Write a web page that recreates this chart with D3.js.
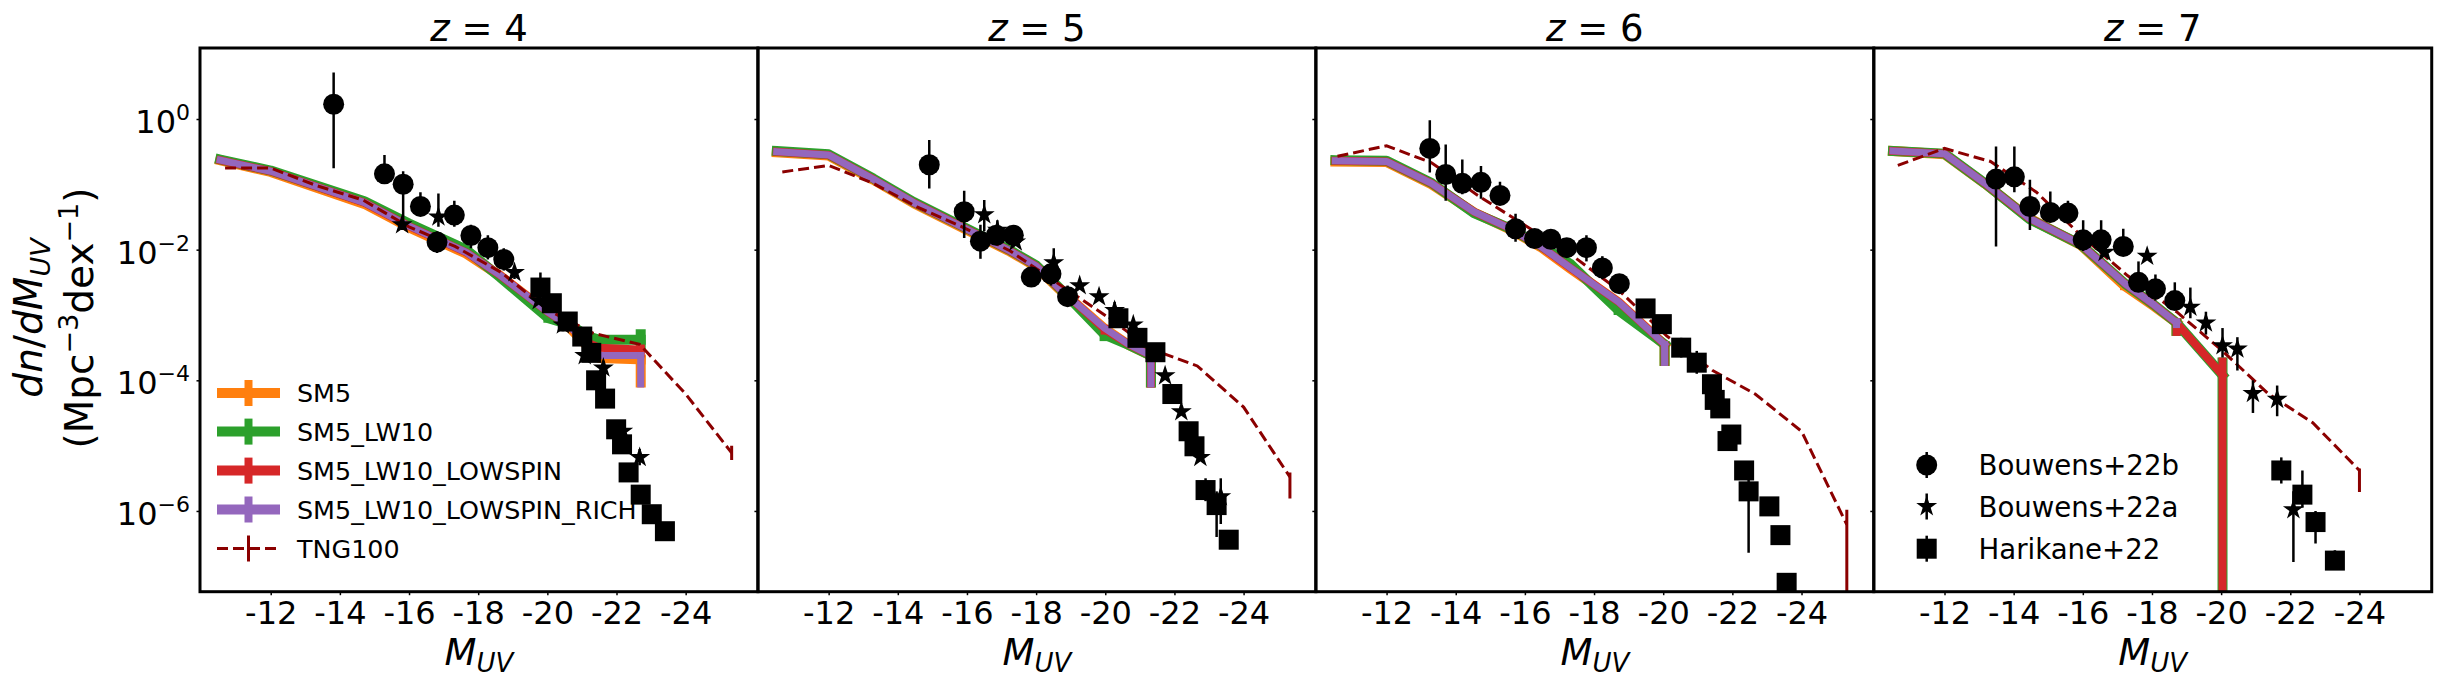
<!DOCTYPE html>
<html><head><meta charset="utf-8">
<script src="https://cdn.jsdelivr.net/npm/d3@7"></script>
<style>
body{margin:0;background:#fff}
svg{display:block}
text{font-family:"DejaVu Sans",sans-serif;fill:#000}
</style>
</head><body>
<svg id="c" width="2437" height="683"></svg>
<script>
// ---------------- DATA (M_UV, log10 dn/dM) ----------------
const redshifts = [4, 5, 6, 7];
const xTicks = [-12, -14, -16, -18, -20, -22, -24];
const yTicksExp = [0, -2, -4, -6];
const simNames = ["SM5", "SM5_LW10", "SM5_LW10_LOWSPIN", "SM5_LW10_LOWSPIN_RICH"];
const simColors = ["#ff7f0e", "#2ca02c", "#d62728", "#9467bd"];
const obsNames = ["Bouwens+22b", "Bouwens+22a", "Harikane+22"];

// z = 4 simulations
const z4_SM5 = [[-10.54,-0.63],[-12,-0.81],[-14.71,-1.30],[-16,-1.66],[-17.65,-2.06],[-18.63,-2.40],[-20.03,-2.97],[-20.66,-3.20],[-21.15,-3.47],[-21.5,-3.66],[-22.7,-3.68]];
const z4_SM5_err = [[-22.7,-4.11,-3.62]];
const z4_LW10 = [[-10.54,-0.62],[-12,-0.79],[-14.71,-1.26],[-16,-1.60],[-17.65,-2.00],[-18.63,-2.42],[-20.03,-3.05],[-20.66,-3.15],[-21.15,-3.32],[-21.5,-3.38],[-22.7,-3.38]];
const z4_LW10_err = [[-20.03,-3.12,-2.98],[-22.7,-3.55,-3.22]];
const z4_LOWSPIN = [[-10.54,-0.63],[-12,-0.80],[-14.71,-1.28],[-16,-1.64],[-17.65,-2.04],[-18.63,-2.39],[-20.03,-2.96],[-20.66,-3.18],[-21.15,-3.42],[-21.5,-3.50],[-22.7,-3.53]];
const z4_LOWSPIN_err = [[-22.7,-3.65,-3.45]];
const z4_RICH = [[-10.54,-0.63],[-12,-0.80],[-14.71,-1.28],[-16,-1.64],[-17.65,-2.04],[-18.63,-2.39],[-20.03,-2.96],[-20.66,-3.18],[-21.15,-3.45],[-21.5,-3.62],[-22.7,-3.62]];
const z4_RICH_err = [[-22.7,-4.11,-3.58]];
const z4_TNG = [[-10.68,-0.75],[-12,-0.75],[-13.33,-1.02],[-14.67,-1.24],[-16,-1.65],[-17.33,-1.95],[-18.67,-2.35],[-20,-2.92],[-21.33,-3.28],[-22.67,-3.45],[-24,-4.21],[-25.33,-5.11]];
const z4_TNG_err = [[-25.33,-5.22,-5.0]];
const z4_B22b = [[-13.82,0.226,-0.752,0.712],[-15.29,-0.839,-0.99,-0.55],[-15.83,-0.999,-1.70,-0.80],[-16.33,-1.338,-1.48,-1.12],[-16.81,-1.884,-2.05,-1.72],[-17.31,-1.471,-1.65,-1.25],[-17.79,-1.784,-1.98,-1.62],[-18.28,-1.97,-2.15,-1.78],[-18.74,-2.15,-2.32,-1.98]];
const z4_B22a = [[-15.8,-1.618,-1.70,-1.55],[-16.85,-1.498,-1.65,-1.14],[-19.05,-2.35,-2.45,-2.25],[-19.75,-2.78],[-20.45,-3.15,-3.25,-3.05],[-21.08,-3.62],[-21.62,-3.81,-3.95,-3.70],[-22.18,-4.78],[-22.67,-5.18,-5.30,-5.05]];
const z4_H22 = [[-19.8,-2.58,-2.78,-2.35],[-20.13,-2.82],[-20.59,-3.10],[-21.01,-3.33],[-21.27,-3.58],[-21.41,-4.00],[-21.67,-4.28],[-21.99,-4.75],[-22.16,-4.98],[-22.35,-5.41],[-22.7,-5.75],[-23.02,-6.05],[-23.4,-6.31]];

// z = 5
const z5_SM5 = [[-10.5,-0.51],[-12,-0.56],[-13.29,-0.93],[-14.46,-1.29],[-15.86,-1.66],[-17.25,-2.03],[-18.0,-2.26],[-18.64,-2.59],[-19.07,-2.79],[-19.98,-3.21],[-20.68,-3.46],[-21.32,-3.62]];
const z5_SM5_err = [[-21.32,-4.11,-3.58]];
const z5_LW10 = [[-10.5,-0.49],[-12,-0.54],[-13.29,-0.91],[-14.46,-1.27],[-15.86,-1.64],[-17.25,-2.01],[-18.0,-2.24],[-18.64,-2.57],[-19.07,-2.80],[-19.98,-3.30],[-20.68,-3.46],[-21.32,-3.62]];
const z5_LW10_err = [[-19.98,-3.40,-3.20],[-21.32,-4.11,-3.58]];
const z5_LOWSPIN = [[-10.5,-0.50],[-12,-0.55],[-13.29,-0.92],[-14.46,-1.28],[-15.86,-1.65],[-17.25,-2.02],[-18.0,-2.25],[-18.64,-2.58],[-19.07,-2.78],[-19.98,-3.22],[-20.68,-3.45],[-21.32,-3.62]];
const z5_LOWSPIN_err = [[-19.98,-3.30,-3.15],[-21.32,-4.11,-3.58]];
const z5_RICH = [[-10.5,-0.50],[-12,-0.55],[-13.29,-0.92],[-14.46,-1.28],[-15.86,-1.65],[-17.25,-2.02],[-18.0,-2.25],[-18.64,-2.58],[-19.07,-2.78],[-19.98,-3.20],[-20.68,-3.45],[-21.32,-3.62]];
const z5_RICH_err = [[-21.32,-4.11,-3.58]];
const z5_TNG = [[-10.66,-0.81],[-12,-0.71],[-13.29,-0.985],[-14.57,-1.35],[-15.86,-1.65],[-17.25,-2.02],[-18.64,-2.52],[-19.98,-3.00],[-21.32,-3.52],[-22.66,-3.78],[-24,-4.41],[-25.34,-5.48]];
const z5_TNG_err = [[-25.34,-5.81,-5.41]];
const z5_B22b = [[-14.91,-0.70,-1.065,-0.32],[-15.92,-1.42,-1.82,-1.10],[-16.39,-1.87,-2.14,-1.62],[-16.85,-1.78],[-17.34,-1.78],[-17.86,-2.42],[-18.43,-2.37,-2.55,-2.25],[-18.91,-2.72,-2.85,-2.55]];
const z5_B22a = [[-16.5,-1.465,-1.72,-1.24],[-16.88,-1.70,-1.85,-1.55],[-17.41,-1.88],[-18.51,-2.20,-2.45,-1.98],[-19.26,-2.55],[-19.82,-2.72],[-20.27,-2.93,-3.05,-2.80],[-20.81,-3.15],[-21.73,-3.93],[-22.2,-4.48],[-22.75,-5.18],[-23.34,-5.78,-6.2,-5.5]];
const z5_H22 = [[-20.38,-3.05],[-20.93,-3.35],[-21.45,-3.57],[-21.94,-4.21],[-22.41,-4.78],[-22.58,-5.01],[-22.9,-5.68,-5.85,-5.5],[-23.22,-5.91,-6.4,-5.7],[-23.57,-6.44,-6.5,-6.3]];

// z = 6
const z6_SM5 = [[-10.52,-0.65],[-12,-0.66],[-13.3,-1.0],[-14.53,-1.43],[-15.5,-1.67],[-16.46,-1.96],[-17.32,-2.29],[-17.96,-2.53],[-18.71,-2.81],[-20.04,-3.46]];
const z6_SM5_err = [[-20.04,-3.78,-3.40]];
const z6_LW10 = [[-10.52,-0.63],[-12,-0.64],[-13.3,-0.98],[-14.53,-1.44],[-15.5,-1.66],[-16.46,-1.94],[-17.32,-2.22],[-17.96,-2.55],[-18.71,-2.93],[-20.04,-3.45]];
const z6_LW10_err = [[-18.71,-3.0,-2.85],[-20.04,-3.78,-3.40]];
const z6_LOWSPIN = [[-10.52,-0.64],[-12,-0.65],[-13.3,-0.985],[-14.53,-1.42],[-15.5,-1.66],[-16.46,-1.95],[-17.32,-2.28],[-17.96,-2.52],[-18.71,-2.80],[-20.04,-3.45]];
const z6_LOWSPIN_err = [[-20.04,-3.78,-3.40]];
const z6_RICH = [[-10.52,-0.64],[-12,-0.65],[-13.3,-0.985],[-14.53,-1.42],[-15.5,-1.66],[-16.46,-1.95],[-17.32,-2.28],[-17.96,-2.52],[-18.71,-2.80],[-20.04,-3.45]];
const z6_RICH_err = [[-20.04,-3.78,-3.40]];
const z6_TNG = [[-10.58,-0.57],[-12,-0.41],[-13.3,-0.67],[-14.64,-1.17],[-15.92,-1.60],[-17.32,-2.07],[-18.71,-2.62],[-20.1,-3.32],[-21.43,-3.85],[-22.66,-4.21],[-24,-4.78],[-25.31,-6.21]];
const z6_TNG_err = [[-25.31,-9,-5.98]];
const z6_B22b = [[-13.25,-0.45,-0.82,-0.02],[-13.71,-0.85,-1.25,-0.39],[-14.19,-0.985,-1.15,-0.62],[-14.73,-0.97,-1.22,-0.72],[-15.28,-1.17,-1.30,-0.96],[-15.73,-1.68,-1.88,-1.45],[-16.28,-1.83],[-16.75,-1.84],[-17.21,-1.97],[-17.78,-1.97,-2.18,-1.78],[-18.24,-2.28,-2.45,-2.10],[-18.73,-2.52]];
const z6_B22a = [];
const z6_H22 = [[-19.49,-2.90],[-19.96,-3.14,-3.25,-3.0],[-20.52,-3.50,-3.65,-3.35],[-20.97,-3.73,-3.90,-3.55],[-21.41,-4.06],[-21.49,-4.30],[-21.65,-4.43],[-21.86,-4.93],[-21.97,-4.83],[-22.34,-5.38],[-22.47,-5.70,-6.64,-5.5],[-23.07,-5.93],[-23.39,-6.37],[-23.57,-7.10]];

// z = 7
const z7_SM5 = [[-10.51,-0.49],[-12,-0.54],[-13.17,-0.99],[-14.45,-1.52],[-15.94,-1.93],[-17.22,-2.56],[-18.07,-2.87],[-18.71,-3.12]];
const z7_SM5_err = [[-17.22,-2.62,-2.50],[-18.71,-3.32,-3.05]];
const z7_LW10 = [[-10.51,-0.49],[-12,-0.53],[-13.17,-0.985],[-14.45,-1.53],[-15.94,-1.92],[-17.22,-2.52],[-18.07,-2.85],[-18.71,-3.12],[-20.04,-3.92]];
const z7_LW10_err = [[-18.71,-3.32,-3.05],[-20.04,-9,-3.65]];
const z7_LOWSPIN = [[-10.51,-0.49],[-12,-0.53],[-13.17,-0.985],[-14.45,-1.52],[-15.94,-1.92],[-17.22,-2.52],[-18.07,-2.85],[-18.71,-3.12],[-20.04,-3.92]];
const z7_LOWSPIN_err = [[-18.71,-3.32,-3.05],[-20.04,-9,-3.65]];
const z7_RICH = [[-10.51,-0.49],[-12,-0.53],[-13.17,-0.985],[-14.45,-1.52],[-15.94,-1.92],[-17.22,-2.52],[-18.07,-2.85],[-18.71,-3.12]];
const z7_RICH_err = [[-18.71,-3.20,-3.05]];
const z7_TNG = [[-10.65,-0.71],[-12,-0.45],[-13.33,-0.65],[-14.66,-1.12],[-15.94,-1.78],[-17.3,-2.40],[-18.71,-2.95],[-20.04,-3.55],[-21.37,-4.21],[-22.65,-4.65],[-24,-5.38]];
const z7_TNG_err = [[-24,-5.71,-5.35]];
const z7_B22b = [[-13.49,-0.92,-1.95,-0.42],[-14.02,-0.885,-1.12,-0.42],[-14.47,-1.34,-1.70,-0.93],[-15.06,-1.43,-1.58,-1.11],[-15.57,-1.44,-1.60,-1.25],[-16.01,-1.85,-2.02,-1.55],[-16.53,-1.85,-2.05,-1.55],[-17.17,-1.95,-2.05,-1.68],[-17.61,-2.50,-2.65,-2.18],[-18.1,-2.60,-2.78,-2.38],[-18.66,-2.78,-2.92,-2.50]];
const z7_B22a = [[-16.63,-2.04],[-17.86,-2.10],[-19.11,-2.88,-3.05,-2.58],[-19.56,-3.12,-3.30,-2.95],[-20.04,-3.47,-3.65,-3.20],[-20.47,-3.52,-3.85,-3.34],[-20.92,-4.20,-4.50,-4.0],[-21.62,-4.29,-4.55,-4.08],[-22.09,-5.98,-6.78,-5.70]];
const z7_H22 = [[-21.74,-5.38,-5.58,-5.18],[-22.35,-5.75,-5.95,-5.38],[-22.73,-6.17,-6.50,-6.0],[-23.29,-6.76,-6.85,-6.6]];

// ---------------- LAYOUT ----------------
const W = 2437, H = 683;
const PL = [200, 757.93, 1315.86, 1873.79], PW = 557.93, PT = 48, PB = 591.7;
const simW = [10, 10, 8, 7];
const TNGC = "#8b0000";

const panels = [
  {sims:[z4_SM5,z4_LW10,z4_LOWSPIN,z4_RICH], errs:[z4_SM5_err,z4_LW10_err,z4_LOWSPIN_err,z4_RICH_err], tng:z4_TNG, tngErr:z4_TNG_err, obs:[z4_B22b,z4_B22a,z4_H22]},
  {sims:[z5_SM5,z5_LW10,z5_LOWSPIN,z5_RICH], errs:[z5_SM5_err,z5_LW10_err,z5_LOWSPIN_err,z5_RICH_err], tng:z5_TNG, tngErr:z5_TNG_err, obs:[z5_B22b,z5_B22a,z5_H22]},
  {sims:[z6_SM5,z6_LW10,z6_LOWSPIN,z6_RICH], errs:[z6_SM5_err,z6_LW10_err,z6_LOWSPIN_err,z6_RICH_err], tng:z6_TNG, tngErr:z6_TNG_err, obs:[z6_B22b,z6_B22a,z6_H22]},
  {sims:[z7_SM5,z7_LW10,z7_LOWSPIN,z7_RICH], errs:[z7_SM5_err,z7_LW10_err,z7_LOWSPIN_err,z7_RICH_err], tng:z7_TNG, tngErr:z7_TNG_err, obs:[z7_B22b,z7_B22a,z7_H22]}
];

const svg = d3.select("#c");
svg.append("rect").attr("width", W).attr("height", H).attr("fill", "#fff");
const defs = svg.append("defs");

const starSym = d3.symbol().type(d3.symbolStar).size(11*11/0.8908130915);

function marker(g, kind, cx, cy){
  if (kind === 0) g.append("circle").attr("cx", cx).attr("cy", cy).attr("r", 10.5).attr("fill", "#000");
  else if (kind === 1) g.append("path").attr("d", starSym()).attr("transform", `translate(${cx},${cy})`).attr("fill", "#000");
  else g.append("rect").attr("x", cx-10).attr("y", cy-10).attr("width", 20).attr("height", 20).attr("fill", "#000");
}

panels.forEach((p, i) => {
  const x = d3.scaleLinear().domain([-9.955, -26.09]).range([PL[i], PL[i] + PW]);
  const y = d3.scaleLog().domain([Math.pow(10, 1.087), Math.pow(10, -7.236)]).range([PT, PB]);
  const Y = v => y(Math.pow(10, v));
  const cx = PL[i] + PW / 2;

  defs.append("clipPath").attr("id", "clip" + i).append("rect")
    .attr("x", PL[i]).attr("y", PT).attr("width", PW).attr("height", PB - PT);

  // legend 1 (panel z=4), drawn below data
  if (i === 0) {
    const lg = svg.append("g");
    const rows = [393, 431.6, 470.6, 509.5, 548.5];
    simNames.forEach((n, k) => {
      lg.append("line").attr("x1", 217).attr("x2", 280).attr("y1", rows[k]).attr("y2", rows[k])
        .attr("stroke", simColors[k]).attr("stroke-width", 10);
      lg.append("line").attr("x1", 248.5).attr("x2", 248.5).attr("y1", rows[k]-13).attr("y2", rows[k]+13)
        .attr("stroke", simColors[k]).attr("stroke-width", 8);
      lg.append("text").attr("x", 297).attr("y", rows[k] + 9.2).attr("font-size", 25.4).text(n);
    });
    lg.append("line").attr("x1", 217).attr("x2", 280).attr("y1", rows[4]).attr("y2", rows[4])
      .attr("stroke", TNGC).attr("stroke-width", 3).attr("stroke-dasharray", "11,5");
    lg.append("line").attr("x1", 248.5).attr("x2", 248.5).attr("y1", rows[4]-13).attr("y2", rows[4]+13)
      .attr("stroke", TNGC).attr("stroke-width", 3);
    lg.append("text").attr("x", 297).attr("y", rows[4] + 9.2).attr("font-size", 25.4).text("TNG100");
  }
  if (i === 3) {
    const lg = svg.append("g");
    const rows = [465, 506.5, 548.7];
    obsNames.forEach((n, k) => {
      lg.append("line").attr("x1", 1926.7).attr("x2", 1926.7).attr("y1", rows[k]-13).attr("y2", rows[k]+13)
        .attr("stroke", "#000").attr("stroke-width", 2.5);
      marker(lg, k, 1926.7, rows[k]);
      lg.append("text").attr("x", 1978.5).attr("y", rows[k] + 10).attr("font-size", 27.6).text(n);
    });
  }

  const g = svg.append("g").attr("clip-path", `url(#clip${i})`);
  const line = d3.line().x(d => x(d[0])).y(d => Y(d[1]));

  // simulation bands
  p.sims.forEach((s, k) => {
    g.append("path").attr("d", line(s)).attr("fill", "none")
      .attr("stroke", simColors[k]).attr("stroke-width", simW[k])
      .attr("stroke-linejoin", "round").attr("stroke-linecap", "square");
    p.errs[k].forEach(e => {
      g.append("line").attr("x1", x(e[0])).attr("x2", x(e[0])).attr("y1", Y(e[1])).attr("y2", Y(e[2]))
        .attr("stroke", simColors[k]).attr("stroke-width", simW[k]);
    });
  });

  // TNG100
  g.append("path").attr("d", line(p.tng)).attr("fill", "none")
    .attr("stroke", TNGC).attr("stroke-width", 3).attr("stroke-dasharray", "11,5");
  p.tngErr.forEach(e => {
    g.append("line").attr("x1", x(e[0])).attr("x2", x(e[0])).attr("y1", Y(e[1])).attr("y2", Y(e[2]))
      .attr("stroke", TNGC).attr("stroke-width", 3);
  });

  // observations
  p.obs.forEach((data, k) => {
    data.forEach(d => {
      if (d.length > 2) g.append("line").attr("x1", x(d[0])).attr("x2", x(d[0]))
        .attr("y1", Y(d[2])).attr("y2", Y(d[3])).attr("stroke", "#000").attr("stroke-width", 2.5);
    });
    data.forEach(d => marker(g, k, x(d[0]), Y(d[1])));
  });

  // x axis
  const xa = svg.append("g").attr("transform", `translate(0,${PB})`)
    .call(d3.axisBottom(x).tickValues(xTicks).tickSize(3.5).tickPadding(6.5).tickFormat(d => String(d)));
  xa.select(".domain").remove();
  xa.selectAll("line").attr("stroke-width", 1.5);
  xa.selectAll("text").attr("font-size", 32).attr("font-family", "DejaVu Sans").attr("fill", "#000");

  // y axis
  const ya = svg.append("g").attr("transform", `translate(${PL[i]},0)`)
    .call(d3.axisLeft(y).tickValues(yTicksExp.map(e => Math.pow(10, e))).tickSize(3.5).tickFormat(() => ""));
  ya.select(".domain").remove();
  ya.selectAll("line").attr("stroke-width", 1.5);
  if (i === 0) {
    yTicksExp.forEach(e => {
      const t = svg.append("text").attr("x", 190).attr("y", y(Math.pow(10, e)) + 14)
        .attr("text-anchor", "end").attr("font-size", 32);
      t.append("tspan").text("10");
      t.append("tspan").attr("font-size", 22).attr("dy", -13).text(e === 0 ? "0" : "\u2212" + (-e));
    });
  }

  // frame
  svg.append("rect").attr("x", PL[i]).attr("y", PT).attr("width", PW).attr("height", PB - PT)
    .attr("fill", "none").attr("stroke", "#000").attr("stroke-width", 3);

  // title
  const tt = svg.append("text").attr("x", cx).attr("y", 41).attr("text-anchor", "middle").attr("font-size", 37);
  tt.append("tspan").attr("font-style", "italic").text("z");
  tt.append("tspan").text(" = " + redshifts[i]);

  // x label
  const xl = svg.append("text").attr("x", cx).attr("y", 665).attr("text-anchor", "middle").attr("font-size", 37);
  xl.append("tspan").attr("font-style", "italic").text("M");
  xl.append("tspan").attr("font-style", "italic").attr("font-size", 26).attr("dy", 7).text("UV");
});

// y label (two lines)
const yl1 = svg.append("text").attr("transform", "translate(42,318) rotate(-90)").attr("text-anchor", "middle").attr("font-size", 39);
yl1.append("tspan").attr("font-style", "italic").text("dn");
yl1.append("tspan").text("/");
yl1.append("tspan").attr("font-style", "italic").text("dM");
yl1.append("tspan").attr("font-style", "italic").attr("font-size", 27).attr("dy", 8).text("UV");
const yl2 = svg.append("text").attr("transform", "translate(93,318) rotate(-90)").attr("text-anchor", "middle").attr("font-size", 39);
yl2.append("tspan").text("(Mpc");
yl2.append("tspan").attr("font-size", 27).attr("dy", -15).text("\u22123");
yl2.append("tspan").attr("dy", 15).text("dex");
yl2.append("tspan").attr("font-size", 27).attr("dy", -15).text("\u22121");
yl2.append("tspan").attr("dy", 15).text(")");
</script>
</body></html>
